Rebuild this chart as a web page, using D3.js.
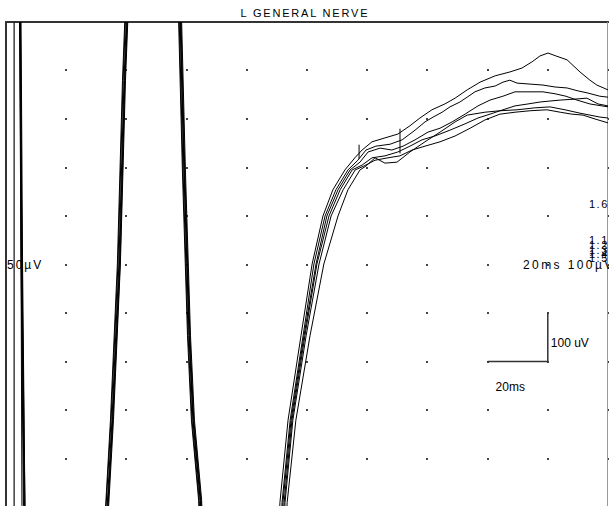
<!DOCTYPE html>
<html>
<head>
<meta charset="utf-8">
<script src="https://cdn.jsdelivr.net/npm/d3@7.9.0/dist/d3.min.js"></script>
<style>
  body { margin: 0; background: #fff; }
  svg { display: block; }
  text { font-family: "Liberation Sans", Arial, sans-serif; fill: #000; }
</style>
</head>
<body>
<svg id="chart" width="609" height="506"></svg>
<script>
// time in ms, amplitude in uV
const timeTicks = [0, 20, 40, 60, 80, 100, 120, 140, 160, 180, 200];
const ampTicks = [-500, -400, -300, -200, -100, 0, 100, 200, 300, 400, 500];

const title = "L GENERAL NERVE";
const stimulusMs = 2.7;

// six superimposed sweeps, [ms, uV]
const trace1 = [[3.8,752],[4.5,500],[5.0,1],[5.8,-497],[6.1,-609],[19,-950],
  [32.2,-609],[34.9,-321],[37.2,1],[38.9,380],[40.2,587],[49,950],
  [57.2,587],[58.8,195],[60.5,-147],[61.8,-321],[64.2,-486],[64.8,-609],[78,-950],
  [90.4,-609],[91.0,-491],[93.7,-321],[98.0,-147],[101.7,1],[105.3,100],[108.6,154],[112.6,195],
  [115.9,220],[118.3,236],[121.6,253],[125.9,261],[130.2,269],[134.2,286],[137.5,302],[141.5,319],
  [145.8,331],[149.2,343],[153.2,360],[157.5,376],[162.5,389],[167.4,397],[171.4,405],[174.8,418],
  [177.4,430],[180.1,436],[182.7,430],[186.4,422],[190.7,397],[194.0,380],[196.3,370],[200,360]];
const trace2 = [[4.0,752],[4.65,500],[5.1,1],[6.1,-497],[6.5,-609],[19,-950],
  [32.6,-609],[35.2,-321],[37.5,1],[39.2,380],[40.5,587],[49,950],
  [57.5,587],[59.1,195],[60.8,-147],[62.1,-321],[64.5,-486],[65.1,-609],[78,-950],
  [91.0,-609],[91.7,-491],[94.4,-321],[98.7,-147],[102.3,1],[106.0,100],[109.6,154],[113.6,195],
  [116.9,215],[119.6,236],[122.9,244],[127.6,248],[131.6,257],[135.9,277],[139.2,294],[141.9,304],
  [144.9,314],[147.5,325],[150.8,335],[153.2,345],[155.8,356],[159.1,364],[162.5,368],[165.1,376],
  [167.4,380],[169.8,374],[174.1,372],[178.4,370],[182.4,366],[186.4,364],[190.0,358],[193.0,354],
  [197.3,347],[200,345]];
const trace3 = [[4.2,752],[4.8,500],[5.3,1],[6.3,-497],[6.6,-609],[19,-950],
  [32.9,-609],[35.5,-321],[37.9,1],[39.5,380],[40.9,587],[49,950],
  [57.8,587],[59.4,195],[61.1,-147],[62.4,-321],[64.8,-486],[65.4,-609],[78,-950],
  [91.4,-609],[92.0,-491],[94.7,-321],[99.0,-147],[103.0,1],[106.6,100],[110.3,154],[114.3,195],
  [117.6,211],[120.3,232],[124.3,240],[128.2,236],[131.9,244],[135.9,257],[140.2,273],[144.2,281],
  [148.2,294],[152.5,310],[156.8,327],[160.8,339],[165.1,347],[169.1,356],[173.1,356],[178.4,356],
  [182.4,352],[186.0,347],[189.7,339],[194.0,331],[200,325]];
const trace4 = [[4.0,752],[4.65,500],[5.0,1],[5.3,-497],[5.5,-609],[19,-950],
  [32.1,-609],[34.7,-321],[37.0,1],[38.7,380],[40.0,587],[49,950],
  [57.0,587],[58.6,195],[60.3,-147],[61.6,-321],[64.0,-486],[64.6,-609],[78,-950],
  [91.7,-609],[92.4,-491],[95.0,-321],[99.3,-147],[103.3,1],[107.3,100],[111.0,154],[115.0,195],
  [118.3,205],[121.6,220],[125.9,224],[130.2,232],[134.2,244],[138.2,257],[142.5,265],[147.5,277],
  [152.5,290],[156.8,302],[160.8,310],[165.1,319],[169.1,327],[173.4,331],[177.4,335],[180.7,337],
  [184.1,339],[189.0,341],[193.0,343],[196.7,331],[200,327]];
const trace5 = [[4.3,752],[5.0,500],[5.5,1],[6.3,-497],[6.6,-609],[19,-950],
  [32.8,-609],[35.4,-321],[37.7,1],[39.4,380],[40.7,587],[49,950],
  [57.6,587],[59.2,195],[60.9,-147],[62.2,-321],[64.6,-486],[65.2,-609],[78,-950],
  [92.0,-609],[92.7,-491],[95.3,-321],[99.7,-147],[104.0,1],[108.0,100],[112.0,154],[116.0,195],
  [118.9,203],[122.6,215],[126.9,220],[130.9,224],[134.9,236],[139.2,244],[144.2,253],[149.2,265],
  [154.2,281],[159.1,298],[164.1,310],[169.1,314],[174.1,317],[179.7,319],[184.1,314],[188.0,310],
  [191.7,308],[195.7,300],[200,292]];
const trace6 = [[4.2,752],[4.8,500],[5.3,1],[6.0,-497],[6.3,-609],[19,-950],
  [33.1,-609],[35.7,-321],[38.0,1],[39.7,380],[41.0,587],[49,950],
  [58.0,587],[59.6,195],[61.3,-147],[62.6,-321],[65.0,-486],[65.6,-609],[78,-950],
  [92.7,-609],[93.4,-491],[96.3,-321],[101.0,-147],[105.6,1],[110.3,100],[113.6,154],[117.6,195],
  [119.6,203],[122.6,220],[125.9,209],[129.9,211],[134.2,232],[139.2,253],[144.2,273],[149.2,294],
  [153.2,308],[159.1,314],[164.1,317],[169.8,319],[175.7,323],[180.7,325],[185.7,319],[190.7,312],
  [197.3,304],[200,302]];
const traces = [trace1, trace2, trace3, trace4, trace5, trace6];

// cursor marks [ms, low uV, high uV]
const markers = [[117.3, 218, 247], [130.9, 229, 280]];

const traceLabels = ["1.6", "1.1", "1.2", "1.3", "1.4", "1.5"];
const labelAmps = [125, 50, 40, 30, 22, 13];

const svg = d3.select("#chart");
const x = d3.scaleLinear().domain([0, 200]).range([6, 608]);
const y = d3.scaleLinear().domain([-500, 500]).range([507, 22]);

svg.append("defs").append("clipPath").attr("id", "plot")
  .append("rect").attr("x", x(0)).attr("y", y(500))
  .attr("width", x(200) - x(0)).attr("height", y(-500) - y(500));

// title
svg.append("text")
  .attr("x", 304).attr("y", 17)
  .attr("text-anchor", "middle")
  .attr("textLength", 127).attr("lengthAdjust", "spacing")
  .style("font-size", "11px")
  .text(title);

// grid dots
const dots = [];
timeTicks.forEach(t => ampTicks.forEach(a => dots.push([t, a])));
svg.append("g").selectAll("rect").data(dots).join("rect")
  .attr("x", d => Math.round(x(d[0])) - 1)
  .attr("y", d => Math.round(y(d[1])) - 1)
  .attr("width", 2).attr("height", 2)
  .attr("fill", "#444");

// frame
const frame = svg.append("g").attr("stroke", "#333").attr("stroke-width", 1.2).attr("shape-rendering", "crispEdges");
frame.append("line").attr("x1", x(0)).attr("x2", x(200)).attr("y1", y(500)).attr("y2", y(500));
frame.append("line").attr("x1", x(0)).attr("x2", x(0)).attr("y1", y(500)).attr("y2", y(-500));
frame.append("line").attr("x1", x(200) - 0.5).attr("x2", x(200) - 0.5).attr("y1", y(500)).attr("y2", y(-500)).attr("stroke", "#999");

const plot = svg.append("g").attr("clip-path", "url(#plot)");

// stimulus line
plot.append("line")
  .attr("x1", x(stimulusMs)).attr("x2", x(stimulusMs))
  .attr("y1", y(500)).attr("y2", y(-500))
  .attr("stroke", "#222").attr("stroke-width", 1.3);

const line = d3.line().x(d => x(d[0])).y(d => y(d[1]));
plot.selectAll("path.trace").data(traces).join("path")
  .attr("class", "trace")
  .attr("d", line)
  .attr("fill", "none")
  .attr("stroke", "#000")
  .attr("stroke-width", 1);

// cursor marks
plot.selectAll("line.mark").data(markers).join("line")
  .attr("class", "mark")
  .attr("x1", d => x(d[0])).attr("x2", d => x(d[0]))
  .attr("y1", d => y(d[1])).attr("y2", d => y(d[2]))
  .attr("stroke", "#000");

// left sensitivity label and right sweep labels
svg.append("text").attr("x", 7).attr("y", 269)
  .style("font-size", "12px").style("letter-spacing", "2px")
  .text("50µV");
svg.append("text").attr("x", 523).attr("y", 269)
  .style("font-size", "12px").style("letter-spacing", "2.4px")
  .text("20ms 100µV");

svg.append("g").selectAll("text").data(traceLabels).join("text")
  .attr("x", 589)
  .attr("y", (d, i) => y(labelAmps[i]) + 4)
  .style("font-size", "11px").style("letter-spacing", "1.5px")
  .text(d => d);

// scale bar
const barT = 160, barA = -200;
svg.append("path")
  .attr("d", `M${x(barT)},${y(barA)}H${x(barT + 20)}V${y(barA + 100)}`)
  .attr("fill", "none").attr("stroke", "#333").attr("stroke-width", 1.5);
svg.append("text").attr("x", x(barT + 20) + 3).attr("y", y(barA + 30))
  .style("font-size", "12px").text("100 uV");
svg.append("text").attr("x", x(barT) + 8).attr("y", y(barA) + 29)
  .style("font-size", "12px").text("20ms");
</script>
</body>
</html>
